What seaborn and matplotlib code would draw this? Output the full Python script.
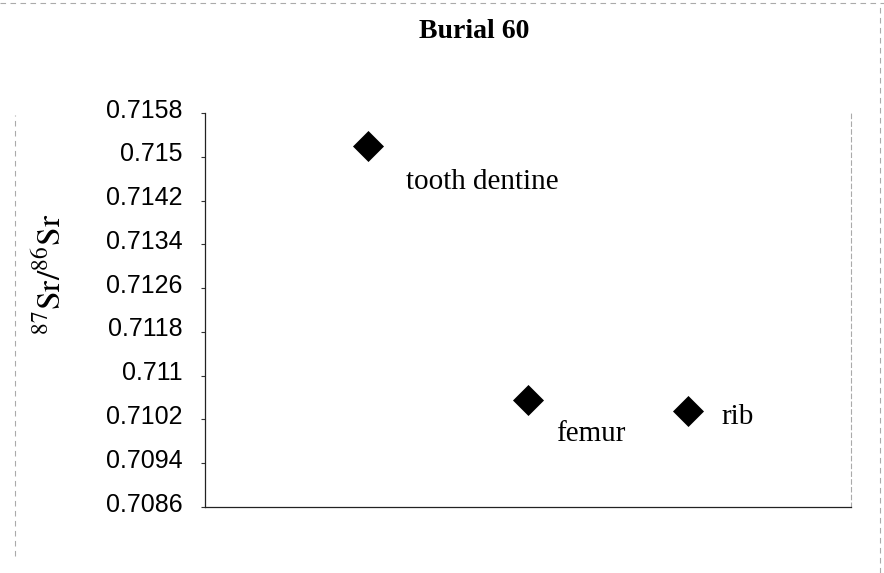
import matplotlib
matplotlib.use("Agg")
import matplotlib.pyplot as plt
import matplotlib.transforms as mtransforms
from matplotlib.lines import Line2D
import seaborn as sns
import pandas as pd

# Sample data: 87Sr/86Sr ratios for Burial 60
samples = ["tooth dentine", "femur", "rib"]
sample_pos = [1, 2, 3]
sr_ratio = [0.71520, 0.71055, 0.71035]

# Label offsets (points) relative to each marker
label_dx = [27, 20, 24.5]
label_dy = [-26, -24.5, -4.5]

y_ticks = [0.7086, 0.7094, 0.7102, 0.7110, 0.7118, 0.7126, 0.7134, 0.7142, 0.7150, 0.7158]
y_tick_labels = ["0.7086", "0.7094", "0.7102", "0.711", "0.7118", "0.7126",
                 "0.7134", "0.7142", "0.715", "0.7158"]

df = pd.DataFrame({"sample": samples, "pos": sample_pos, "ratio": sr_ratio})

sns.set_style("white")
plt.rcParams["font.family"] = ["Liberation Sans", "DejaVu Sans"]
plt.rcParams["mathtext.fontset"] = "stix"

fig = plt.figure(figsize=(8.84, 5.73), dpi=100)
ax = fig.add_axes([205 / 884, 66 / 573, 646 / 884, 394 / 573])

sns.scatterplot(data=df, x="pos", y="ratio", marker="D", s=250,
                color="black", linewidth=0, ax=ax, legend=False)

for name, x, y, dx, dy in zip(df["sample"], df["pos"], df["ratio"], label_dx, label_dy):
    ax.annotate(name, (x, y), xytext=(dx, dy), textcoords="offset points",
                ha="left", va="center", fontsize=21, color="black",
                family=["Liberation Serif", "DejaVu Serif"])

ax.set_xlim(-0.02, 4.02)
ax.set_ylim(y_ticks[0], y_ticks[-1])
ax.set_xticks([])
ax.set_yticks(y_ticks)
ax.set_yticklabels(y_tick_labels, fontsize=18, color="black")
ax.tick_params(axis="y", direction="out", length=3, width=0.8,
               color="#333333", pad=13, left=True)

# tick labels sit slightly above their ticks
shift = mtransforms.ScaledTranslation(0, 5 / 100, fig.dpi_scale_trans)
for lbl in ax.get_yticklabels():
    lbl.set_transform(lbl.get_transform() + shift)

ax.set_xlabel("")
ax.set_ylabel(r"$^{87}$Sr/$^{86}$Sr", fontsize=24, color="black",
              family=["STIXGeneral", "Liberation Serif"])
ax.yaxis.set_label_coords(-0.213, 0.59)

for side in ["left", "bottom"]:
    ax.spines[side].set_color("#222222")
    ax.spines[side].set_linewidth(0.9)
ax.spines["top"].set_visible(False)
ax.spines["right"].set_color("#aaaaaa")
ax.spines["right"].set_linewidth(0.8)
ax.spines["right"].set_linestyle((0, (4, 3)))

fig.text(474 / 884, 1 - 32 / 573, "Burial 60", ha="center", va="center",
         fontsize=20, fontweight="bold", color="black",
         family=["Liberation Serif", "DejaVu Serif"])

# chart-area frame
frame_kw = dict(color="#aaaaaa", linewidth=0.8, linestyle=(0, (5, 4)))
fig.add_artist(Line2D([0.0, 1.0], [0.995, 0.995], transform=fig.transFigure, **frame_kw))
fig.add_artist(Line2D([15 / 884, 15 / 884], [0.03, 0.80], transform=fig.transFigure, **frame_kw))
fig.add_artist(Line2D([880 / 884, 880 / 884], [0.0, 0.995], transform=fig.transFigure, **frame_kw))

fig.savefig("out.png", dpi=100)
